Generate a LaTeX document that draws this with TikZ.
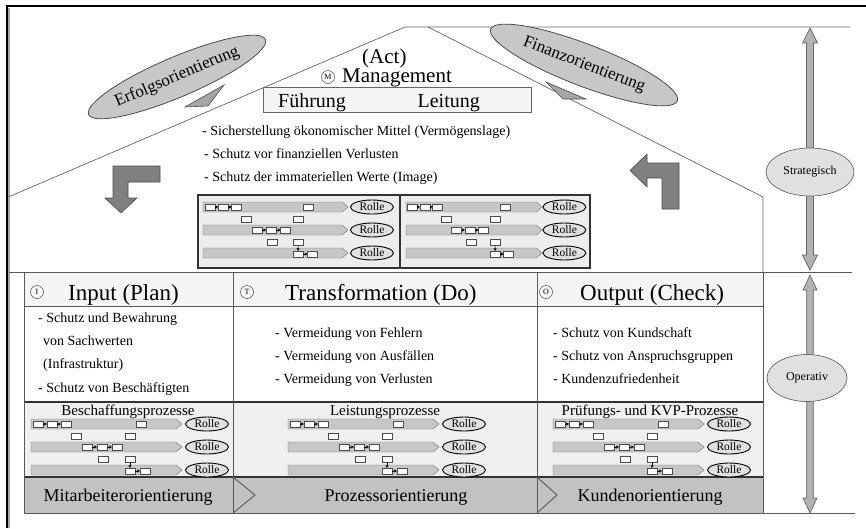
\documentclass[tikz,border=0pt]{standalone}
\usepackage{fontspec}
\setmainfont{Liberation Serif}
\usetikzlibrary{shapes.geometric,arrows.meta}
\newcommand{\fsz}[1]{\fontsize{#1}{#1}\selectfont}

% small swim-lane process sketch: three lanes, each with a role ellipse
\tikzset{
  lane/.style={fill=black!22, draw=black!55, line width=0.4pt},
  rolle/.style={ellipse, draw=black, line width=0.9pt, fill=black!12, inner sep=0pt,
    minimum width=43pt, minimum height=14pt, font=\fsz{11.5}},
  tinybox/.style={draw=black!70, fill=white, line width=0.3pt, inner sep=0pt,
    minimum width=10pt, minimum height=6pt},
  tinyarrow/.style={-{Triangle[length=2.5pt,width=3pt]}, line width=0.5pt},
  minilanes/.pic={
    \foreach \k/\yy in {1/0,2/23,3/46}{
      \path[lane] (0,\yy-5) -- (145,\yy-5) -- (151,\yy) -- (145,\yy+5) -- (0,\yy+5) -- cycle;
      \node[rolle] (-r\k) at (176,\yy) {Rolle};
    }
    \node[tinybox] (-a1) at (7,0) {};
    \node[tinybox] (-a2) at (21,0) {};
    \node[tinybox] (-a3) at (35,0) {};
    \node[tinybox] (-a4) at (110,0) {};
    \node[tinybox] (-h1) at (45,12) {};
    \node[tinybox] (-h2) at (99,12) {};
    \node[tinybox] (-b1) at (56,23) {};
    \node[tinybox] (-b2) at (71,23) {};
    \node[tinybox] (-b3) at (86,23) {};
    \node[tinybox] (-h3) at (72,35) {};
    \node[tinybox] (-h4) at (99,35) {};
    \node[tinybox] (-c1) at (99,47) {};
    \node[tinybox] (-c2) at (114,47) {};
    \draw[tinyarrow] (-a1) -- (-a2);
    \draw[tinyarrow] (-a2) -- (-a3);
    \draw[tinyarrow] (-b1) -- (-b2);
    \draw[tinyarrow] (-b2) -- (-b3);
    \draw[tinyarrow] (-c1) -- (-c2);
    \draw[tinyarrow] (-h4) -- (-c1);
  }
}

\begin{document}
\begin{tikzpicture}[x=1pt,y=-1pt,
  roofline/.style={draw=black!60, line width=0.7pt},
  gridline/.style={draw=black!65, line width=0.9pt},
  procline/.style={draw=black!80, line width=1.2pt},
  orient/.style={ellipse, draw=black!70, fill=black!22, line width=0.8pt, inner sep=0pt, font=\fsz{17}},
  pointer/.style={fill=black!35, draw=black!70, line width=0.6pt},
  blockarrow/.style={fill=black!50, draw=black!70, line width=0.6pt},
  axisarrow/.style={fill=black!30, draw=black!60, line width=0.7pt},
  level/.style={ellipse, draw=black!60, fill=black!12, line width=0.7pt, inner sep=0pt, font=\fsz{12}},
  circ/.style={circle, draw=black!75, line width=0.5pt, inner sep=0pt, minimum size=13pt, font=\fsz{8}},
  body/.style={inner sep=0pt, anchor=base west, font=\fsz{14}},
  head/.style={inner sep=0pt, anchor=base west, font=\fsz{23}},
  ptitle/.style={inner sep=0pt, anchor=base, font=\fsz{15}},
  barlabel/.style={inner sep=0pt, anchor=base, font=\fsz{18}}]
\useasboundingbox (0,0) rectangle (866,528);

% frame
\draw[black!35, line width=1.2pt] (8.9,528) -- (8.9,7.5);
\draw[black, line width=2.2pt] (7,528) -- (7,6.2) -- (866,6.2);

% roof and walls
\draw[roofline] (9,196.7) -- (405,27) -- (850,27);
\draw[roofline] (428,27) -- (763,197) -- (763,272);

% orientation ellipses with pointers
\node[orient, minimum width=192pt, minimum height=40pt, rotate=23] (erfolg) at (177,77) {Erfolgsorientierung};
\path[pointer] (185,107) -- (224,85) -- (208,106) -- cycle;
\node[orient, minimum width=200pt, minimum height=42pt, rotate=-21] (finanz) at (584,65) {Finanzorientierung};
\path[pointer] (546,82) -- (586,99) -- (563,99) -- cycle;

% management block
\node[inner sep=0pt, anchor=base west, font=\fsz{21}] (act) at (362,63) {(Act)};
\node[circ] (cm) at (328,77) {M};
\node[inner sep=0pt, anchor=base west, font=\fsz{21}] (mgmt) at (342,82) {Management};
\draw[fill=black!4, draw=black!60, line width=0.8pt] (263,87) rectangle (531,112);
\node[inner sep=0pt, anchor=base west, font=\fsz{20}] (fuehr) at (278,107) {Führung};
\node[inner sep=0pt, anchor=base east, font=\fsz{20}] (leit) at (480,107) {Leitung};

\node[body] (s1) at (202,135) {- Sicherstellung ökonomischer Mittel (Vermögenslage)};
\node[body] (s2) at (204,158) {- Schutz vor finanziellen Verlusten};
\node[body] (s3) at (204,181) {- Schutz der immateriellen Werte (Image)};

% turning block arrows
\path[blockarrow] (160,166) -- (113,166) -- (113,198) -- (105,198) -- (121,213)
  -- (137,198) -- (128,198) -- (128,182) -- (160,182) -- cycle;
\path[blockarrow] (679,209) -- (679,163) -- (647,163) -- (647,154) -- (630,170.5)
  -- (647,187) -- (647,178) -- (662,178) -- (662,209) -- cycle;

% strategic process overview
\draw[fill=black!7, draw=black!80, line width=1.1pt] (198,195) rectangle (590,268);
\draw[black!80, line width=1.1pt] (400,195) -- (400,268);
\pic[xscale=0.96] (ta) at (203,207) {minilanes};
\pic[xscale=0.9] (tb) at (406,207) {minilanes};

% table rows
\fill[black!4] (24,272) rectangle (763,306);
\fill[black!6] (24,402) rectangle (763,477);
\fill[black!24] (24,477) rectangle (763,513);
\draw[gridline] (9,272) -- (852,272);
\draw[gridline] (24,306) -- (763,306);
\draw[procline] (24,402) -- (763,402);
\draw[procline] (24,477) -- (763,477);
\draw[gridline] (24,513) -- (855,513);
\draw[gridline] (24,272) -- (24,513);
\draw[gridline] (233,272) -- (233,513);
\draw[gridline] (537,272) -- (537,513);
\draw[gridline] (763,272) -- (763,513);
\draw[gridline] (233,477) -- (255,495) -- (233,513);
\draw[gridline] (537,477) -- (557,495) -- (537,513);

% column headings
\node[circ] (ci) at (37,292) {I};
\node[head] (hin) at (68,300) {Input (Plan)};
\node[circ] (ct) at (247,292) {T};
\node[head] (htr) at (285,300) {Transformation (Do)};
\node[circ] (co) at (546,292) {O};
\node[head] (hout) at (580,300) {Output (Check)};

% column contents
\node[body] (i1) at (38,322) {- Schutz und Bewahrung};
\node[body] (i2) at (43,345) {von Sachwerten};
\node[body] (i3) at (43,368) {(Infrastruktur)};
\node[body] (i4) at (38,392) {- Schutz von Beschäftigten};
\node[body] (t1) at (275,337) {- Vermeidung von Fehlern};
\node[body] (t2) at (275,360) {- Vermeidung von Ausfällen};
\node[body] (t3) at (275,383) {- Vermeidung von Verlusten};
\node[body] (o1) at (553,337) {- Schutz von Kundschaft};
\node[body] (o2) at (553,360) {- Schutz von Anspruchsgruppen};
\node[body] (o3) at (553,383) {- Kundenzufriedenheit};

% process row
\node[ptitle] (p1) at (128,415) {Beschaffungsprozesse};
\node[ptitle] (p2) at (385,415) {Leistungsprozesse};
\node[ptitle] (p3) at (650,415) {Prüfungs- und KVP-Prozesse};
\pic (pa) at (31,424) {minilanes};
\pic (pb) at (288,424) {minilanes};
\pic (pc) at (553,424) {minilanes};

% orientation bar
\node[barlabel] (b1) at (128,501) {Mitarbeiterorientierung};
\node[barlabel] (b2) at (396,501) {Prozessorientierung};
\node[barlabel] (b3) at (650,501) {Kundenorientierung};

% level axis
\path[axisarrow] (810,28) -- (817.5,43) -- (813.5,43) -- (813.5,255) -- (817.5,255) -- (810,270)
  -- (802.5,255) -- (806.5,255) -- (806.5,43) -- (802.5,43) -- cycle;
\node[level, minimum width=88pt, minimum height=48pt] (strat) at (810,172) {Strategisch};
\path[axisarrow] (810,275) -- (817,290) -- (813.3,290) -- (813.3,498) -- (817,498) -- (810,513)
  -- (803,498) -- (806.7,498) -- (806.7,290) -- (803,290) -- cycle;
\node[level, minimum width=80pt, minimum height=47pt] (oper) at (807,378) {Operativ};
\end{tikzpicture}
\end{document}
